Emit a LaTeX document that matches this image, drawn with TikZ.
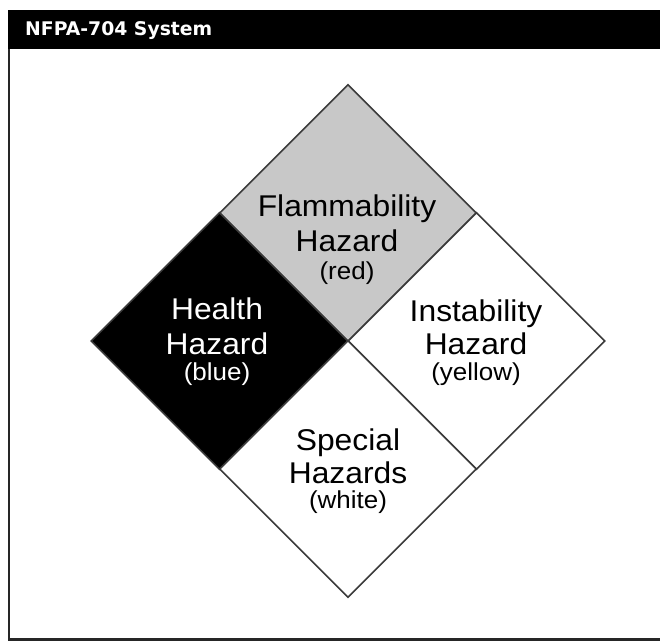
\documentclass[tikz,border=0pt]{standalone}
\usepackage{fontspec}
\setmainfont{Liberation Sans}
\newfontfamily\labfont[FakeStretch=1.06]{Liberation Sans}
\newfontfamily\headfont{DejaVu Sans Bold}
\usetikzlibrary{shapes.geometric}
\definecolor{flamgray}{HTML}{C8C8C8}
\definecolor{edgegray}{HTML}{3A3A3A}
\tikzset{
  quad/.style={diamond, aspect=1, inner sep=0pt, minimum width=257pt, minimum height=257pt, draw=edgegray, line width=1.6pt},
  bigtxt/.style={anchor=base, inner sep=0pt, font=\labfont\fontsize{30}{34}\selectfont},
  smalltxt/.style={anchor=base, inner sep=0pt, font=\labfont\fontsize{24.5}{28}\selectfont},
}
\begin{document}
\begin{tikzpicture}[x=1pt,y=1pt]
\useasboundingbox (0,0) rectangle (660,642);
% frame
\fill[black] (8,593) rectangle (670,632);
\draw[line width=2.5pt, black!85] (9,593) -- (9,2.5) -- (670,2.5);
\node[anchor=base west, inner sep=0pt, text=white, font=\headfont\fontsize{18.8}{22}\selectfont] (title) at (25,606) {NFPA-704 System};
% diamonds
\node[quad, fill=flamgray] (flam) at (348,429) {};
\node[quad, fill=black] (health) at (219.5,301) {};
\node[quad, fill=white] (inst) at (476.5,301) {};
\node[quad, fill=white] (spec) at (348,173) {};
% texts
\node[bigtxt] (f1) at (347,425) {Flammability};
\node[bigtxt] (f2) at (347,390) {Hazard};
\node[smalltxt] (f3) at (347,362) {(red)};
\node[bigtxt, text=white] (h1) at (217,322) {Health};
\node[bigtxt, text=white] (h2) at (217,287) {Hazard};
\node[smalltxt, text=white] (h3) at (217,261) {(blue)};
\node[bigtxt] (i1) at (476,320) {Instability};
\node[bigtxt] (i2) at (476,287) {Hazard};
\node[smalltxt] (i3) at (476,261) {(yellow)};
\node[bigtxt] (s1) at (348,191) {Special};
\node[bigtxt] (s2) at (348,158) {Hazards};
\node[smalltxt] (s3) at (348,134) {(white)};
\end{tikzpicture}
\end{document}
